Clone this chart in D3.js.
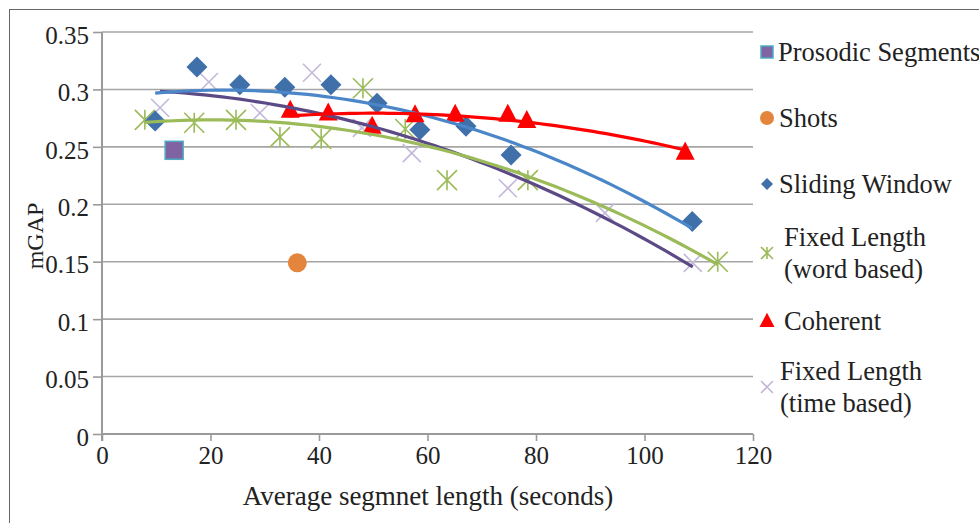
<!DOCTYPE html>
<html>
<head>
<meta charset="utf-8">
<script src="https://cdn.jsdelivr.net/npm/d3@7"></script>
<style>
  body { margin: 0; background: #fff; }
  svg text { font-family: "Liberation Serif", "Tinos", "DejaVu Serif", serif; fill: #222; }
</style>
</head>
<body>
<svg id="chart" width="979" height="523"></svg>
<script>
// values: [segment length (s), mGAP]
const prosodic = [[13.3, 0.247]];
const shots = [[36.0, 0.149]];
const sliding = [[9.8, 0.2725], [17.5, 0.3195], [25.4, 0.304], [33.7, 0.302], [42.2, 0.304],
                 [50.7, 0.288], [58.6, 0.265], [67.1, 0.268], [75.4, 0.243], [108.8, 0.185]];
const fixedWord = [[7.9, 0.2735], [17.0, 0.271], [24.7, 0.2735], [32.8, 0.2585], [40.4, 0.257],
                   [48.1, 0.301], [55.9, 0.2655], [63.6, 0.221], [78.5, 0.221], [113.5, 0.150]];
const coherent = [[34.7, 0.282], [41.7, 0.2795], [49.8, 0.268], [57.7, 0.278], [65.1, 0.2785],
                  [74.8, 0.2785], [78.3, 0.273], [107.5, 0.2455]];
const fixedTime = [[10.7, 0.284], [19.7, 0.3065], [29.1, 0.2795], [38.7, 0.3145], [47.9, 0.2665],
                   [57.1, 0.2445], [74.8, 0.214], [92.7, 0.1925], [108.9, 0.149]];

const xTicks = [0, 20, 40, 60, 80, 100, 120];
const yTicks = [0, 0.05, 0.1, 0.15, 0.2, 0.25, 0.3, 0.35];

const FONT = '"Liberation Serif", "Tinos", "DejaVu Serif", serif';
const svg = d3.select("#chart");
const x = d3.scaleLinear().domain([0, 120]).range([102, 753]);
const y = d3.scaleLinear().domain([0, 0.35]).range([434, 32]);

// outer frame (runs off the picture on the right and bottom)
svg.append("rect").attr("x", 9.5).attr("y", 9.5).attr("width", 1000).attr("height", 600)
  .attr("fill", "none").attr("stroke", "#666").attr("stroke-width", 1);

// gridlines
svg.append("g").selectAll("line").data(yTicks.slice(1)).join("line")
  .attr("x1", x(0)).attr("x2", x(120))
  .attr("y1", d => y(d)).attr("y2", d => y(d))
  .attr("stroke", "#a6a6a6").attr("stroke-width", 1.6);

// axes
const yAxis = svg.append("g").attr("transform", `translate(${x(0)},0)`)
  .call(d3.axisLeft(y).tickValues(yTicks).tickSize(9).tickPadding(4).tickFormat(d3.format("")));
const xAxis = svg.append("g").attr("transform", `translate(0,${y(0)})`)
  .call(d3.axisBottom(x).tickValues(xTicks).tickSize(7).tickPadding(5));
[yAxis, xAxis].forEach(a => {
  a.attr("font-family", FONT).attr("font-size", 25);
  a.select(".domain").attr("stroke", "#9a9a9a").attr("stroke-width", 2);
  a.selectAll(".tick line").attr("stroke", "#9a9a9a").attr("stroke-width", 1.6);
  a.selectAll("text").attr("fill", "#222");
});
yAxis.selectAll(".tick text").attr("dy", "0.45em");
xAxis.select(".domain").attr("d", `M${x(0)},0H${x(120)}`);
yAxis.select(".domain").attr("d", `M0,${y(0) + 7}V${y(0.35)}`);

svg.append("text").attr("x", 428).attr("y", 505).attr("text-anchor", "middle")
  .attr("font-size", 27).text("Average segmnet length (seconds)");
svg.append("text").attr("transform", "translate(43,236) rotate(-90)").attr("text-anchor", "middle")
  .attr("font-size", 24).text("mGAP");

// quadratic trendline (least squares), like a spreadsheet "poly 2" trendline
function quadFit(pts) {
  let s = [0, 0, 0, 0, 0], t = [0, 0, 0];
  pts.forEach(([a, b]) => {
    for (let k = 0; k < 5; k++) s[k] += Math.pow(a, k);
    for (let k = 0; k < 3; k++) t[k] += b * Math.pow(a, k);
  });
  const M = [[s[0], s[1], s[2], t[0]], [s[1], s[2], s[3], t[1]], [s[2], s[3], s[4], t[2]]];
  for (let i = 0; i < 3; i++) {
    for (let j = i + 1; j < 3; j++) {
      const f = M[j][i] / M[i][i];
      for (let k = i; k < 4; k++) M[j][k] -= f * M[i][k];
    }
  }
  const c = [0, 0, 0];
  for (let i = 2; i >= 0; i--) {
    let v = M[i][3];
    for (let k = i + 1; k < 3; k++) v -= M[i][k] * c[k];
    c[i] = v / M[i][i];
  }
  return v => c[0] + c[1] * v + c[2] * v * v;
}
const line = d3.line().x(d => x(d[0])).y(d => y(d[1]));
function trend(pts, color) {
  const f = quadFit(pts);
  const [lo, hi] = d3.extent(pts, d => d[0]);
  const samples = d3.range(0, 61).map(i => lo + (hi - lo) * i / 60).map(v => [v, f(v)]);
  svg.append("path").attr("d", line(samples)).attr("fill", "none")
    .attr("stroke", color).attr("stroke-width", 3.2);
}

// marker painters
const mark = {
  square: (g, s) => g.append("rect").attr("x", -s / 2).attr("y", -s / 2).attr("width", s).attr("height", s)
      .attr("fill", "#8064a2").attr("stroke", "#4bacc6").attr("stroke-width", 1.5),
  circle: (g, s) => g.append("circle").attr("r", s / 2).attr("fill", "#e3853c"),
  diamond: (g, s) => g.append("path").attr("d", `M0,${-s / 2}L${s / 2},0L0,${s / 2}L${-s / 2},0Z`)
      .attr("fill", "#3f70aa"),
  star: (g, s) => g.append("path")
      .attr("d", `M${-s / 2},${-s / 2}L${s / 2},${s / 2}M${s / 2},${-s / 2}L${-s / 2},${s / 2}M0,${-s / 2}V${s / 2}`)
      .attr("stroke", "#9bbb59").attr("stroke-width", 1.6).attr("fill", "none"),
  triangle: (g, s) => g.append("path").attr("d", `M0,${-s * 0.55}L${s / 2},${s * 0.4}L${-s / 2},${s * 0.4}Z`)
      .attr("fill", "#ff0000"),
  cross: (g, s) => g.append("path")
      .attr("d", `M${-s / 2},${-s / 2}L${s / 2},${s / 2}M${s / 2},${-s / 2}L${-s / 2},${s / 2}`)
      .attr("stroke", "#c3b8da").attr("stroke-width", 1.6).attr("fill", "none")
};
function points(pts, kind, size) {
  svg.append("g").selectAll("g").data(pts).join("g")
    .attr("transform", d => `translate(${x(d[0])},${y(d[1])})`)
    .each(function () { mark[kind](d3.select(this), size); });
}

points(fixedTime, "cross", 18);
points(fixedWord, "star", 20);
points(sliding, "diamond", 21);
points(coherent, "triangle", 19);
points(prosodic, "square", 18);
points(shots, "circle", 19);

trend(fixedTime, "#5c4a86");
trend(fixedWord, "#9bbb59");
trend(sliding, "#4a86c8");
trend(coherent, "#ff0000");

// legend
const legendItems = [
  { kind: "square", size: 12, y: 52, lines: ["Prosodic Segments"], tx: 778 },
  { kind: "circle", size: 14, y: 118, lines: ["Shots"], tx: 779 },
  { kind: "diamond", size: 12, y: 184, lines: ["Sliding Window"], tx: 779 },
  { kind: "star", size: 12, y: 253, lines: ["Fixed Length", "(word based)"], tx: 784 },
  { kind: "triangle", size: 15, y: 321, lines: ["Coherent"], tx: 784 },
  { kind: "cross", size: 12, y: 387, lines: ["Fixed Length", "(time based)"], tx: 780 }
];
const lg = svg.append("g").selectAll("g").data(legendItems).join("g");
lg.each(function (d) {
  const g = d3.select(this);
  mark[d.kind](g.append("g").attr("transform", `translate(767,${d.y})`), d.size);
  const top = d.y - (d.lines.length - 1) * 16 + 9;
  d.lines.forEach((t, i) => g.append("text").attr("x", d.tx).attr("y", top + i * 32)
    .attr("font-size", 26.5).text(t));
});
</script>
</body>
</html>
